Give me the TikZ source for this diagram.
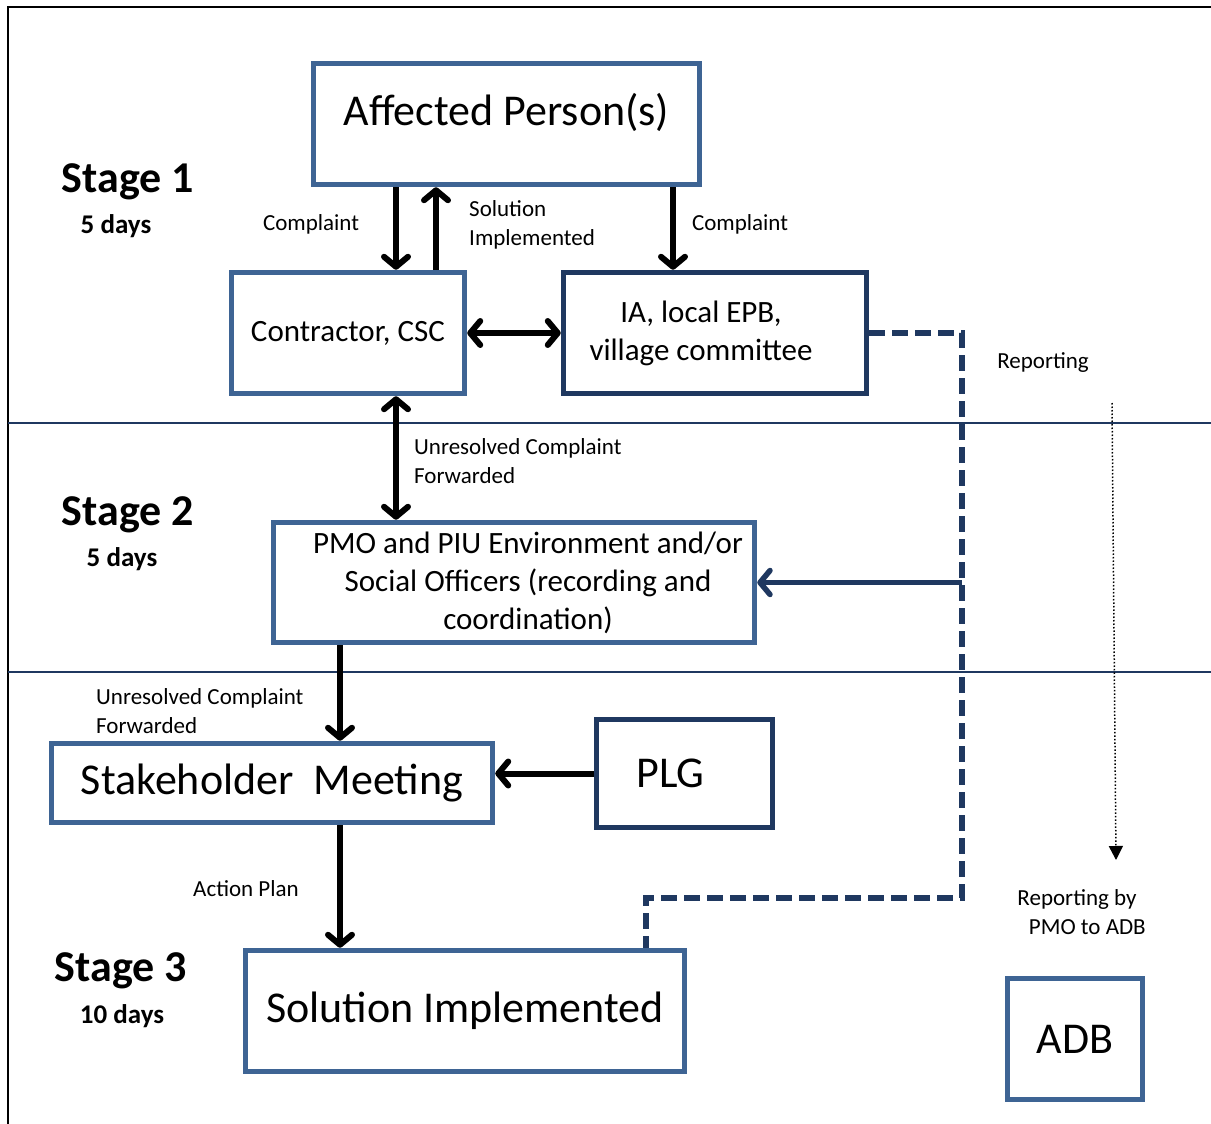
\documentclass[tikz,border=0pt]{standalone}
\usepackage{fontspec}
\setmainfont{Carlito}
\usetikzlibrary{arrows.meta, positioning}

\definecolor{midblue}{RGB}{62,100,148}
\definecolor{darkblue}{RGB}{31,56,96}

\begin{document}
\begin{tikzpicture}[
  x=1pt, y=-1pt,
  font=\fontsize{23}{29}\selectfont,
  box/.style    ={rectangle, draw=midblue, line width=5.5pt, fill=white,
                  align=center, inner sep=2pt},
  darkbox/.style={box, draw=darkblue},
  bigtxt/.style ={font=\fontsize{44}{52}\selectfont},
  medtxt/.style ={font=\fontsize{31}{38}\selectfont},
  stage/.style  ={font=\fontsize{44}{50}\selectfont\bfseries, inner sep=0pt},
  days/.style   ={font=\fontsize{27}{32}\selectfont\bfseries, inner sep=0pt},
  lbl/.style    ={inner sep=0pt, align=left},
  flow/.style   ={-{Straight Barb[length=10pt, width=24pt, round]}, line width=6pt},
  twoway/.style ={{Straight Barb[length=10pt, width=24pt, round]}-{Straight Barb[length=10pt, width=24pt, round]},
                  line width=6pt},
  report/.style ={draw=darkblue, line width=6pt, dash pattern=on 16pt off 7pt},
  rflow/.style  ={-{Straight Barb[length=10pt, width=24pt, round]}, draw=darkblue, line width=5.5pt},
  adbline/.style={-{Triangle[length=14pt, width=14pt]}, dotted, line width=1.5pt},
  divider/.style={draw=darkblue, line width=2pt},
]
\useasboundingbox (0,0) rectangle (1211,1124);

% ---- frame and stage dividers ----
\draw[line width=2pt] (8,1124) -- (8,7) -- (1211,7);
\draw[divider] (8,423) -- (1211,423);
\draw[divider] (8,672) -- (1211,672);

% ---- stage labels ----
\node[stage] (s1) at (128,182)  {Stage 1};
\node[days]  (d1) at (116,226)  {5 days};
\node[stage] (s2) at (128,515)  {Stage 2};
\node[days]  (d2) at (122,559)  {5 days};
\node[stage] (s3) at (121,971)  {Stage 3};
\node[days]  (d3) at (122,1016) {10 days};

% ---- boxes ----
\node[box, bigtxt, minimum width=386pt, minimum height=121pt, text depth=30pt] (ap) at (506.5,124) {Affected Person(s)};
\node[box, medtxt, minimum width=233pt, minimum height=121pt] (csc) at (348,333)   {Contractor, CSC};
\node[darkbox, medtxt, minimum width=303pt, minimum height=121pt] (ia) at (715,333) {IA, local EPB,\hspace*{28pt}\\village committee\hspace*{28pt}};
\node[box, medtxt, minimum width=481pt, minimum height=120pt] (pmo) at (514,582.5) {\hspace*{28pt}PMO and PIU Environment and/or\\\hspace*{28pt}Social Officers (recording and\\\hspace*{28pt}coordination)};
\node[box, bigtxt, minimum width=441pt, minimum height=79pt]  (sm)  at (272,783)   {Stakeholder~~Meeting};
\node[darkbox, bigtxt, minimum width=176pt, minimum height=108pt] (plg) at (684.5,773.5) {\hspace*{-28pt}PLG};
\node[box, bigtxt, minimum width=439pt, minimum height=121pt] (si)  at (465,1011)  {Solution Implemented};
\node[box, bigtxt, minimum width=135pt, minimum height=121pt] (adb) at (1075,1039) {ADB};

% ---- connector labels ----
\node[lbl] (c1)   at (311,224)  {Complaint};
\node[lbl, anchor=west] (sol) at (469,225) {Solution\\Implemented};
\node[lbl] (c2)   at (740,224)  {Complaint};
\node[lbl] (rep)  at (1043,363) {Reporting};
\node[lbl, anchor=west] (uf1) at (414,461) {Unresolved Complaint\\Forwarded};
\node[lbl, anchor=west] (uf2) at (96,711)  {Unresolved Complaint\\Forwarded};
\node[lbl] (act)  at (246,889)  {Action Plan};
\node[lbl, align=center] (radb) at (1077,912) {Reporting by\\\hspace{0.9em}PMO to ADB};

% ---- main flow ----
\draw[flow]   ([xshift=48pt]csc.north |- ap.south) -- ([xshift=48pt]csc.north);
\draw[flow]   ([xshift=88pt]csc.north) -- ([xshift=88pt]csc.north |- ap.south);
\draw[flow]   ([xshift=-42pt]ia.north |- ap.south) -- ([xshift=-42pt]ia.north);
\draw[twoway] (csc.east) -- (ia.west);
\draw[twoway] ([xshift=48pt]csc.south) -- ([xshift=48pt]csc.south |- pmo.north);
\draw[flow]   ([xshift=68pt]sm.north |- pmo.south) -- ([xshift=68pt]sm.north);
\draw[flow]   (plg.west) -- (sm.east |- plg.west);
\draw[flow]   ([xshift=68pt]sm.south) -- ([xshift=68pt]sm.south |- si.north);

% ---- reporting line ----
\coordinate (rturn) at (962,898);
\draw[report] (ia.east) -| (rturn) -| ([xshift=181pt]si.north);
\draw[rflow]  (rturn |- pmo.east) -- (pmo.east);

% ---- reporting to ADB ----
\coordinate (dtop) at (1112,403);
\coordinate (dbot) at (1116,860);
\draw[adbline] (dtop) -- (dbot);

\end{tikzpicture}
\end{document}
